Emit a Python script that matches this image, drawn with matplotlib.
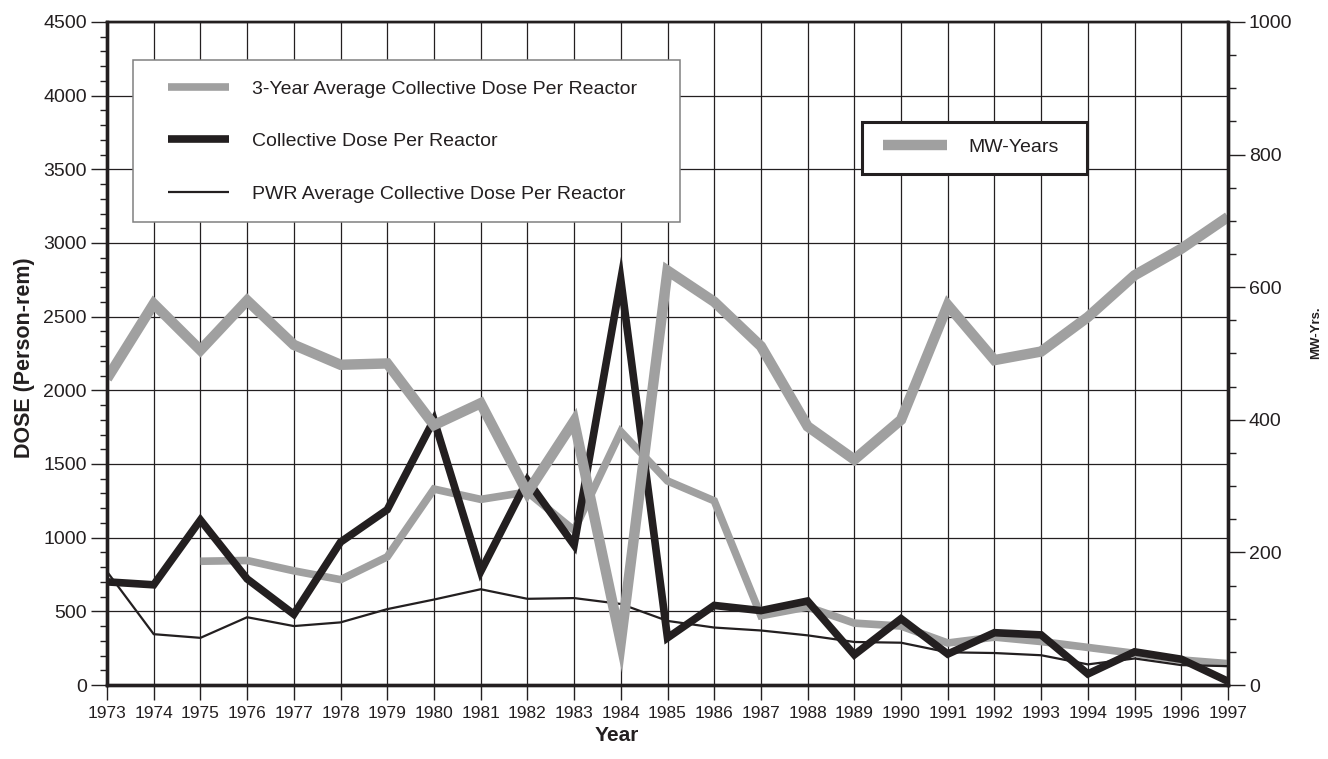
import numpy as np
import matplotlib
matplotlib.use("Agg")
from matplotlib import pyplot as plt
from matplotlib.patches import Rectangle
from matplotlib.ticker import MultipleLocator

years = list(range(1973, 1998))
collective_dose = [700, 680, 1120, 720, 480, 970, 1190, 1800, 770, 1390,
                   950, 2750, 320, 540, 505, 570, 205, 450, 210, 355,
                   340, 75, 225, 175, 25]
three_year_avg = [np.nan, np.nan, 840, 845, 775, 715, 870, 1330, 1260, 1310,
                  1050, 1720, 1385, 1250, 470, 530, 420, 400, 285, 325,
                  295, 255, 215, 170, 145]
pwr_avg = [770, 345, 320, 460, 400, 425, 515, 580, 650, 585,
           590, 550, 435, 390, 370, 337, 292, 287, 222, 217,
           202, 140, 180, 135, 128]
mw_years = [462, 575, 505, 580, 513, 483, 485, 392, 425, 290,
            398, 65, 625, 578, 511, 390, 340, 400, 573, 490,
            503, 555, 618, 658, 706]

dose_labels = ["3-Year Average Collective Dose Per Reactor",
               "Collective Dose Per Reactor",
               "PWR Average Collective Dose Per Reactor"]
mw_label = "MW-Years"

INK = "#231f20"
GRAY = "#a0a0a0"
plt.rcParams["font.family"] = ["Liberation Sans", "DejaVu Sans"]

W, H = 1328, 759
fig = plt.figure(figsize=(W / 100, H / 100), dpi=100)
ax = fig.add_axes([107 / W, 1 - 685 / H, 1121 / W, 663 / H])
ax2 = ax.twinx()

style = dict(solid_joinstyle="miter", solid_capstyle="butt")
l_avg, = ax.plot(years, three_year_avg, color=GRAY, lw=5.5, zorder=3, **style)
l_dose, = ax.plot(years, collective_dose, color=INK, lw=5.5, zorder=4, **style)
l_pwr, = ax.plot(years, pwr_avg, color=INK, lw=1.6, zorder=5, **style)
l_mw, = ax2.plot(years, mw_years, color=GRAY, lw=7.5, zorder=2, **style)

ax.set_xlim(1973, 1997)
ax.set_ylim(0, 4500)
ax2.set_ylim(0, 1000)
ax.xaxis.set_major_locator(MultipleLocator(1))
ax.yaxis.set_major_locator(MultipleLocator(500))
ax.yaxis.set_minor_locator(MultipleLocator(100))
ax2.yaxis.set_major_locator(MultipleLocator(200))
ax2.yaxis.set_minor_locator(MultipleLocator(50))
ax.grid(True, which="major", color=INK, lw=0.9)
ax.set_axisbelow(True)

ax.tick_params(axis="x", direction="out", length=11, width=1, color=INK,
               labelsize=12.5, labelcolor=INK, pad=4)
ax.tick_params(axis="y", which="major", direction="out", length=11.5, width=1,
               color=INK, labelsize=14, labelcolor=INK, pad=3)
ax.tick_params(axis="y", which="minor", direction="out", length=5, width=1, color=INK)
ax2.tick_params(axis="y", which="major", direction="out", length=12, width=1,
                color=INK, labelsize=14, labelcolor=INK, pad=3)
ax2.tick_params(axis="y", which="minor", direction="out", length=5.5, width=1, color=INK)

for a in (ax, ax2):
    for side, sp in a.spines.items():
        sp.set_color(INK)
        sp.set_linewidth(1.7 if side == "top" else 2.4)

ax.set_ylabel("DOSE (Person-rem)", fontsize=15.5, fontweight="bold", color=INK)
ax.yaxis.set_label_coords(-0.064, 0.493)
ax.set_xlabel("Year", fontsize=15, fontweight="bold", color=INK)
ax.xaxis.set_label_coords(0.455, -0.062)
ax2.set_ylabel("MW-Yrs.", fontsize=9.5, fontweight="bold", color=INK)
ax2.yaxis.set_label_coords(1.0735, 0.531)

# legend frames
ax2.add_patch(Rectangle((133 / W, 1 - 222 / H), 547 / W, 162 / H,
                        transform=fig.transFigure, facecolor="white",
                        edgecolor="#808080", lw=1.1, zorder=4))
ax2.add_patch(Rectangle((862 / W, 1 - 174 / H), 225 / W, 52 / H,
                        transform=fig.transFigure, facecolor="white",
                        edgecolor=INK, lw=2.2, zorder=4))

leg1 = ax2.legend([l_avg, l_dose, l_pwr], dose_labels, loc="center left",
                  bbox_to_anchor=(168 / W, 1 - 141.5 / H),
                  bbox_transform=fig.transFigure, frameon=False, fontsize=14,
                  handlelength=3.14, handletextpad=1.19, labelspacing=1.79,
                  borderpad=0, borderaxespad=0)
for t in leg1.get_texts():
    t.set_color(INK)
ax2.add_artist(leg1)

leg2 = ax2.legend([l_mw], [mw_label], loc="center left",
                  bbox_to_anchor=(883 / W, 1 - 147 / H),
                  bbox_transform=fig.transFigure, frameon=False, fontsize=14,
                  handlelength=3.3, handletextpad=1.08, borderpad=0, borderaxespad=0)
for t in leg2.get_texts():
    t.set_color(INK)

fig.savefig("out.png", dpi=100)
